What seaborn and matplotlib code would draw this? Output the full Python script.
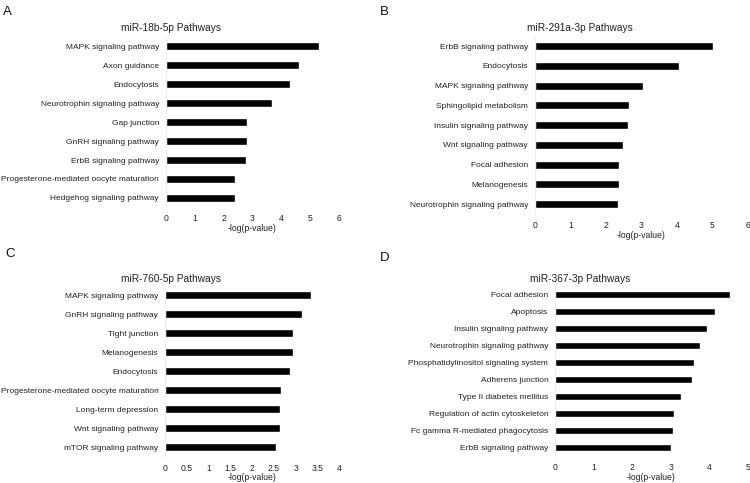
import matplotlib
matplotlib.use("Agg")
import matplotlib.pyplot as plt
import seaborn as sns
import pandas as pd

sns.set_theme(style="white")
plt.rcParams['font.family'] = ['Liberation Sans', 'DejaVu Sans']

# Panel A
a_title = "miR-18b-5p Pathways"
a_terms = ["MAPK signaling pathway", "Axon guidance", "Endocytosis",
           "Neurotrophin signaling pathway", "Gap junction", "GnRH signaling pathway",
           "ErbB signaling pathway", "Progesterone-mediated oocyte maturation",
           "Hedgehog signaling pathway"]
a_vals = [5.32, 4.62, 4.30, 3.69, 2.82, 2.80, 2.76, 2.39, 2.39]
a_ticks = [0, 1, 2, 3, 4, 5, 6]
a_tick_labels = ["0", "1", "2", "3", "4", "5", "6"]

# Panel B
b_title = "miR-291a-3p Pathways"
b_terms = ["ErbB signaling pathway", "Endocytosis", "MAPK signaling pathway",
           "Sphingolipid metabolism", "Insulin signaling pathway", "Wnt signaling pathway",
           "Focal adhesion", "Melanogenesis", "Neurotrophin signaling pathway"]
b_vals = [5.03, 4.07, 3.06, 2.65, 2.63, 2.47, 2.38, 2.36, 2.33]
b_ticks = [0, 1, 2, 3, 4, 5, 6]
b_tick_labels = ["0", "1", "2", "3", "4", "5", "6"]

# Panel C
c_title = "miR-760-5p Pathways"
c_terms = ["MAPK signaling pathway", "GnRH signaling pathway", "Tight junction",
           "Melanogenesis", "Endocytosis", "Progesterone-mediated oocyte maturation",
           "Long-term depression", "Wnt signaling pathway", "mTOR signaling pathway"]
c_vals = [3.36, 3.15, 2.95, 2.95, 2.88, 2.67, 2.65, 2.63, 2.56]
c_ticks = [0, 0.5, 1, 1.5, 2, 2.5, 3, 3.5, 4]
c_tick_labels = ["0", "0.5", "1", "1.5", "2", "2.5", "3", "3.5", "4"]

# Panel D
d_title = "miR-367-3p Pathways"
d_terms = ["Focal adhesion", "Apoptosis", "Insulin signaling pathway",
           "Neurotrophin signaling pathway", "Phosphatidylinositol signaling system",
           "Adherens junction", "Type II diabetes mellitus",
           "Regulation of actin cytoskeleton", "Fc gamma R-mediated phagocytosis",
           "ErbB signaling pathway"]
d_vals = [4.55, 4.16, 3.95, 3.77, 3.61, 3.56, 3.28, 3.08, 3.06, 3.01]
d_ticks = [0, 1, 2, 3, 4, 5]
d_tick_labels = ["0", "1", "2", "3", "4", "5"]

panel_letters = ["A", "B", "C", "D"]
xlabel = "-log(p-value)"

fig = plt.figure(figsize=(7.5, 4.83), dpi=100)

panels = [
    (a_title, a_terms, a_vals, a_ticks, a_tick_labels, [0.2213, 0.5704, 0.2307, 0.354]),
    (b_title, b_terms, b_vals, b_ticks, b_tick_labels, [0.7133, 0.557, 0.2836, 0.368]),
    (c_title, c_terms, c_vals, c_ticks, c_tick_labels, [0.2204, 0.0545, 0.2316, 0.354]),
    (d_title, d_terms, d_vals, d_ticks, d_tick_labels, [0.7404, 0.0560, 0.2565, 0.352]),
]
letter_pos = [(0.004, 0.975), (0.507, 0.975), (0.007, 0.475), (0.507, 0.465)]
title_pos = [(171 / 750, 1 - 28 / 483), (580 / 750, 1 - 28 / 483),
             (171 / 750, 1 - 279 / 483), (580 / 750, 1 - 279 / 483)]

for (title, terms, vals, ticks, tlabels, rect), letter, lp, tp in zip(panels, panel_letters, letter_pos, title_pos):
    ax = fig.add_axes(rect)
    df = pd.DataFrame({"term": terms, "value": vals})
    sns.barplot(data=df, x="value", y="term", orient="h", color="black",
                width=0.4, ax=ax, saturation=1)
    ax.set_xlim(ticks[0], ticks[-1])
    ax.set_ylim(len(terms) - 0.5, -0.5)
    ax.set_xticks(ticks)
    ax.set_xticklabels(tlabels, fontsize=6.2, color="#222222")
    ax.tick_params(axis="y", labelsize=6.0, pad=5, length=0, labelcolor="#222222")
    ax.tick_params(axis="x", length=0, pad=5)
    ax.set_ylabel("")
    ax.set_xlabel(xlabel, fontsize=6.2, labelpad=0.5, color="#222222")
    for s in ["top", "right", "bottom"]:
        ax.spines[s].set_visible(False)
    ax.spines["left"].set_color("#eeeeee")
    ax.spines["left"].set_linewidth(0.8)
    fig.text(tp[0], tp[1], title, fontsize=7.3, ha="center", va="center", color="#222222")
    fig.text(lp[0], lp[1], letter, fontsize=9.5, ha="left", va="center", color="#111111")

fig.savefig("out.png", dpi=100)
